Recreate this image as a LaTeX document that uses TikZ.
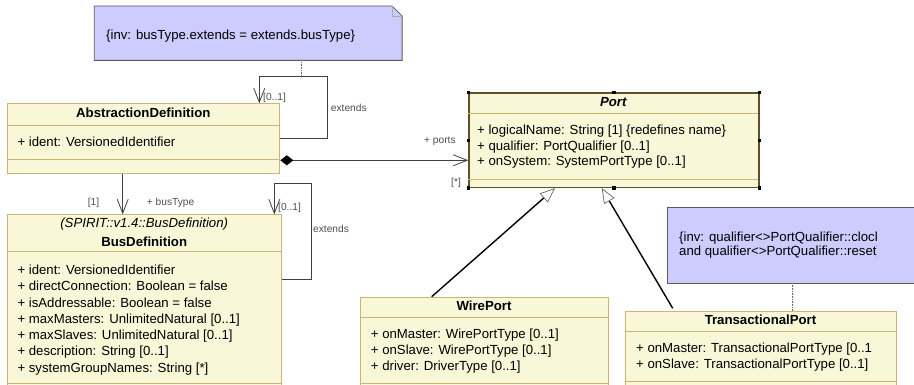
\documentclass[tikz,border=0pt]{standalone}
\usepackage{fontspec}
\setmainfont{Liberation Sans}
\usetikzlibrary{arrows.meta}
\usetikzlibrary{positioning}
\definecolor{classfill}{RGB}{248,248,216}
\definecolor{classline}{RGB}{205,180,115}
\definecolor{portline}{RGB}{95,80,40}
\definecolor{notefill}{RGB}{204,204,255}
\definecolor{noteline}{RGB}{90,90,90}
\definecolor{labelgray}{RGB}{80,80,80}
\tikzset{
	classbox/.style={draw=classline,fill=classfill,line width=1pt,anchor=north west,inner sep=0pt},
	sepline/.style={draw=classline,line width=1pt},
	attr/.style={anchor=base west,inner sep=0pt,font=\fontsize{13.2}{16}\selectfont},
	classtitle/.style={anchor=base,inner sep=0pt,font=\bfseries\fontsize{13.2}{16}\selectfont},
	rolelabel/.style={anchor=base west,inner sep=0pt,text=labelgray,font=\fontsize{10.2}{12}\selectfont},
	assoc/.style={draw=black!75,line width=0.9pt},
	openhead/.style={-{Straight Barb[length=14pt,width=11pt,line width=0.8pt]}},
	genline/.style={draw=black,line width=1.4pt,-{Triangle[open,fill=white,length=15pt,width=12pt,line width=0.7pt,color=black!60]}},
	notebox/.style={fill=notefill,draw=noteline,line width=0.8pt},
	anchorline/.style={draw=black!60,line width=0.6pt,densely dotted},
}
\begin{document}
\begin{tikzpicture}[x=1pt,y=-1pt]
	\clip (0,0) rectangle (914,385);
	\fill[white] (0,0) rectangle (914,385);

	% notes
	\path node[anchor=north west,inner sep=0pt,minimum width=307.4pt,minimum height=54pt] (busnote) at (94.3,6) {};
	\draw[notebox] (busnote.south west) -- (busnote.north west) -- ([xshift=-10pt]busnote.north east) -- ([yshift=-10pt]busnote.north east) -- (busnote.south east) -- cycle;
	\draw[draw=noteline!50,line width=0.5pt] ([xshift=-10pt]busnote.north east) |- ([yshift=-10pt]busnote.north east);
	\begin{scope}
		\clip (94.3,0) rectangle (356.5,60);
		\node[attr] (busnotetext) at (106,39.5) {\{inv: busType.extends = extends.busType\}};
	\end{scope}

	\path node[anchor=north west,inner sep=0pt,minimum width=270pt,minimum height=75.3pt] (portnote) at (667,207.7) {};
	\draw[notebox] (portnote.south west) rectangle (portnote.north east);
	\begin{scope}
		\clip (667,200) rectangle (876,290);
		\node[attr] (portnotetext1) at (679,241.2) {\{inv: qualifier<>PortQualifier::clock};
		\node[attr] (portnotetext2) at (679,255.5) {and qualifier<>PortQualifier::reset\}};
	\end{scope}

	% AbstractionDefinition
	\node[classbox,minimum width=272pt,minimum height=70pt] (absdef) at (7.3,103.3) {};
	\draw[sepline] (7.3,125.7) -- (279.3,125.7);
	\draw[sepline] (7.3,159.3) -- (279.3,159.3);
	\node[classtitle] (absdeftitle) at (143.3,118) {AbstractionDefinition};
	\node[attr] (absdefattr) at (17.3,146.2) {+ ident: VersionedIdentifier};

	% BusDefinition
	\node[classbox,minimum width=273.7pt,minimum height=190pt] (busdef) at (7.3,214.3) {};
	\draw[sepline] (7.3,251.7) -- (281,251.7);
	\draw[sepline] (7.3,383.3) -- (281,383.3);
	\node[anchor=base,inner sep=0pt,font=\itshape\fontsize{13.2}{16}\selectfont] (busdefstereo) at (144.2,228) {(SPIRIT::v1.4::BusDefinition)};
	\node[classtitle] (busdeftitle) at (144.2,247) {BusDefinition};
	\foreach \txt [count=\i from 0] in {{+ ident: VersionedIdentifier},{+ directConnection: Boolean = false},{+ isAddressable: Boolean = false},{+ maxMasters: UnlimitedNatural [0..1]},{+ maxSlaves: UnlimitedNatural [0..1]},{+ description: String [0..1]},{+ systemGroupNames: String [*]}}
		\node[attr] (busdefattr\i) at ({17.3},{274.5+16.28*\i}) {\txt};

	% Port
	\node[classbox,draw=portline,line width=1.4pt,minimum width=290pt,minimum height=94.4pt] (port) at (468.3,92.3) {};
	\draw[sepline] (468.3,113.3) -- (758.3,113.3);
	\draw[sepline] (468.3,180) -- (758.3,180);
	\node[anchor=base,inner sep=0pt,font=\bfseries\itshape\fontsize{13.2}{16}\selectfont] (porttitle) at (613.3,106.2) {Port};
	\foreach \txt [count=\i from 0] in {{+ logicalName: String [1] \{redefines name\}},{+ qualifier: PortQualifier [0..1]},{+ onSystem: SystemPortType [0..1]}}
		\node[attr] (portattr\i) at ({477},{134.5+15.7*\i}) {\txt};
	\foreach \a in {north west,north,north east,east,south east,south,south west,west}
		\fill[black] (port.\a) +(-1.6pt,-1.6pt) rectangle +(1.6pt,1.6pt);

	% WirePort
	\node[classbox,minimum width=248pt,minimum height=100pt] (wireport) at (360,296.7) {};
	\draw[sepline] (360,317.3) -- (608,317.3);
	\draw[sepline] (360,383) -- (608,383);
	\node[classtitle] (wireporttitle) at (484,310.2) {WirePort};
	\foreach \txt [count=\i from 0] in {{+ onMaster: WirePortType [0..1]},{+ onSlave: WirePortType [0..1]},{+ driver: DriverType [0..1]}}
		\node[attr] (wireportattr\i) at ({370.7},{338.5+15.9*\i}) {\txt};

	% TransactionalPort
	\node[classbox,minimum width=271pt,minimum height=90pt] (transport) at (625,311) {};
	\draw[sepline] (625,331.7) -- (896,331.7);
	\draw[sepline] (625,381.7) -- (896,381.7);
	\node[classtitle] (transporttitle) at (760.5,324.5) {TransactionalPort};
	\foreach \txt [count=\i from 0] in {{+ onMaster: TransactionalPortType [0..1},{+ onSlave: TransactionalPortType [0..1]}}
		\node[attr] (transportattr\i) at ({636},{352.8+15.3*\i}) {\txt};

	% self associations
	\coordinate (adloop) at (327.3,76.7);
	\coordinate (adnote) at (301,76.7);
	\draw[assoc,openhead] (absdef.east) -| (adloop) -| ([xshift=-21pt]absdef.north east);
	\draw[anchorline] (adnote |- busnote.south) -- (adnote);
	\node[rolelabel] (adextmult) at (263,100.3) {[0..1]};
	\node[rolelabel] (adextname) at (330.7,111.9) {extends};

	\coordinate (bdloop) at (311.7,183.3);
	\draw[assoc,openhead] ([yshift=30pt]busdef.east) -| (bdloop) -| ([xshift=-7.7pt]busdef.north east);
	\node[rolelabel] (bdextmult) at (278,210.3) {[0..1]};
	\node[rolelabel] (bdextname) at (313,232.9) {extends};

	% busType
	\draw[assoc,openhead] ([xshift=115.4pt]absdef.south west) -- ([xshift=115.4pt]busdef.north west);
	\node[rolelabel] (bustypemult) at (87.7,205.3) {[1]};
	\node[rolelabel] (bustypename) at (146.7,205.3) {+ busType};

	% ports (composition)
	\coordinate (compstart) at ([yshift=14pt]absdef.south east);
	\draw[assoc,{Diamond[length=13pt,width=10pt,color=black]}-{Straight Barb[length=14pt,width=11pt,line width=0.8pt]}] (compstart) -- (compstart -| port.west);
	\node[rolelabel] (portsname) at (424,143.6) {+ ports};
	\node[rolelabel] (portsmult) at (451,185.3) {[*]};

	% generalizations
	\draw[genline] ([xshift=71.7pt]wireport.north west) -- ([xshift=86.7pt]port.south west);
	\draw[genline] ([xshift=47.7pt,yshift=2.7pt]transport.north west) -- ([xshift=133.4pt]port.south west);
	\draw[anchorline] (792,283) -- (792,311);
\end{tikzpicture}
\end{document}
